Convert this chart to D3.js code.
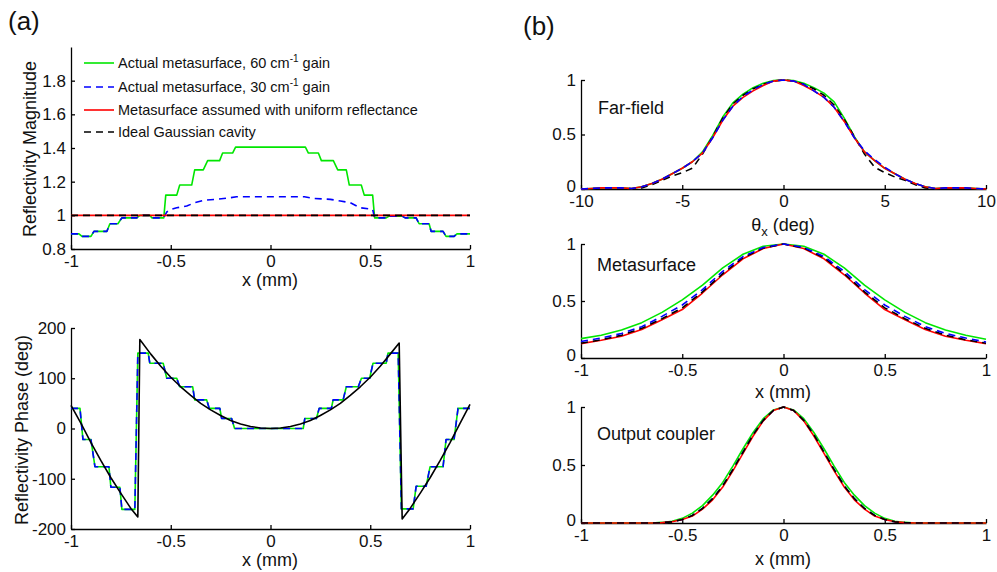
<!DOCTYPE html>
<html>
<head>
<meta charset="utf-8">
<script src="https://cdn.jsdelivr.net/npm/d3@7/dist/d3.min.js"></script>
<style>
  html, body { margin: 0; padding: 0; background: #fff; }
  svg { display: block; font-family: "Liberation Sans", Arial, Helvetica, sans-serif; }
  .axis path, .axis line { stroke: #000; stroke-width: 1.3; }
  .axis text { fill: #111; }
</style>
</head>
<body>
<svg id="chart" width="997" height="572"></svg>
<script>
// ---------------- DATA ----------------
// (a) top: reflectivity magnitude vs x (mm)
const magGreenX = [-1, -0.96, -0.945, -0.9, -0.885, -0.82, -0.805, -0.765, -0.745, -0.67, -0.655, -0.605, -0.595, -0.535, -0.525, -0.47, -0.455, -0.395, -0.38, -0.337, -0.315, -0.255, -0.24, -0.19, -0.175, 0.175, 0.19, 0.24, 0.255, 0.315, 0.337, 0.38, 0.395, 0.455, 0.47, 0.512, 0.522, 0.58, 0.595, 0.66, 0.675, 0.73, 0.745, 0.795, 0.805, 0.865, 0.88, 0.92, 0.935, 1];
const magGreenY = [0.89, 0.89, 0.875, 0.875, 0.905, 0.905, 0.95, 0.95, 0.985, 0.985, 1.0, 1.0, 0.985, 0.985, 1.12, 1.12, 1.18, 1.18, 1.27, 1.27, 1.325, 1.325, 1.37, 1.37, 1.405, 1.405, 1.37, 1.37, 1.325, 1.325, 1.27, 1.27, 1.18, 1.18, 1.12, 1.12, 0.985, 0.985, 0.995, 0.995, 0.985, 0.985, 0.95, 0.95, 0.905, 0.905, 0.875, 0.875, 0.89, 0.89];
const magBlueX = [-1, -0.96, -0.945, -0.9, -0.885, -0.82, -0.805, -0.765, -0.745, -0.67, -0.655, -0.605, -0.595, -0.535, -0.52, -0.5, -0.47, -0.42, -0.38, -0.33, -0.27, -0.2, -0.17, 0.17, 0.22, 0.3, 0.35, 0.4, 0.45, 0.512, 0.522, 0.58, 0.595, 0.66, 0.675, 0.73, 0.745, 0.795, 0.805, 0.865, 0.88, 0.92, 0.935, 1];
const magBlueY = [0.89, 0.89, 0.875, 0.875, 0.905, 0.905, 0.95, 0.95, 0.985, 0.985, 1.0, 1.0, 0.985, 0.985, 1.02, 1.035, 1.045, 1.055, 1.075, 1.09, 1.095, 1.105, 1.11, 1.11, 1.1, 1.095, 1.085, 1.075, 1.045, 1.035, 0.985, 0.985, 0.995, 0.995, 0.985, 0.985, 0.95, 0.95, 0.905, 0.905, 0.875, 0.875, 0.89, 0.89];
const magRedX = [-1, 1];
const magRedY = [1, 1];
const magBlackX = [-1, 1];
const magBlackY = [1, 1];

// (a) bottom: reflectivity phase (deg) vs x (mm)
const phStepX = [-1, -0.955, -0.94, -0.9, -0.88, -0.81, -0.8, -0.755, -0.745, -0.68, -0.665, -0.613, -0.605, -0.538, -0.52, -0.47, -0.455, -0.39, -0.38, -0.32, -0.307, -0.254, -0.245, -0.195, -0.18, 0.164, 0.172, 0.23, 0.244, 0.305, 0.314, 0.364, 0.38, 0.44, 0.456, 0.497, 0.514, 0.58, 0.589, 0.64, 0.656, 0.715, 0.73, 0.78, 0.8, 0.865, 0.88, 0.92, 0.94, 1];
const phStepY = [40, 40, -22, -22, -76, -76, -117, -117, -161, -161, 150, 150, 130, 130, 100, 100, 83, 83, 57, 57, 40, 40, 20, 20, 0, 0, 20, 20, 40, 40, 57, 57, 83, 83, 100, 100, 130, 130, 150, 150, -160, -160, -115, -115, -76, -76, -22, -22, 40, 40];
const phIdealX = [-1, -0.95, -0.9, -0.85, -0.8, -0.75, -0.7, -0.665, -0.655, -0.6, -0.55, -0.5, -0.45, -0.4, -0.35, -0.3, -0.25, -0.2, -0.15, -0.1, -0.05, 0, 0.05, 0.1, 0.15, 0.2, 0.25, 0.3, 0.35, 0.4, 0.45, 0.5, 0.55, 0.6, 0.645, 0.66, 0.7, 0.75, 0.8, 0.85, 0.9, 0.95, 1];
const phIdealY = [46, 10, -28, -64, -98, -129, -159, -176, 177, 148, 124, 102, 83, 66, 50, 37, 26, 16, 9, 4, 1, 0, 1, 4, 9, 16, 26, 37, 50, 66, 83, 102, 124, 148, 170, -180, -159, -129, -98, -64, -28, 10, 48];

// (b) far-field vs theta_x (deg)
const ffX = [-10, -9.5, -9, -8.5, -8, -7.5, -7, -6.5, -6, -5.5, -5, -4.5, -4, -3.5, -3, -2.5, -2, -1.5, -1, -0.5, 0, 0.5, 1, 1.5, 2, 2.5, 3, 3.5, 4, 4.5, 5, 5.5, 6, 6.5, 7, 7.5, 8, 8.5, 9, 9.5, 10];
const ffGreen = [0, 0.005, 0.01, 0.01, 0.01, 0.005, 0.02, 0.05, 0.09, 0.14, 0.19, 0.25, 0.34, 0.49, 0.66, 0.79, 0.87, 0.93, 0.97, 0.995, 1, 0.995, 0.97, 0.93, 0.88, 0.8, 0.65, 0.48, 0.34, 0.26, 0.19, 0.14, 0.09, 0.05, 0.02, 0.005, 0.01, 0.01, 0.01, 0.005, 0];
const ffBlue = [0, 0.005, 0.01, 0.01, 0.01, 0.005, 0.02, 0.05, 0.09, 0.14, 0.19, 0.25, 0.33, 0.47, 0.63, 0.76, 0.85, 0.91, 0.96, 0.99, 1, 0.99, 0.96, 0.9, 0.84, 0.75, 0.62, 0.47, 0.35, 0.27, 0.2, 0.14, 0.09, 0.05, 0.02, 0.005, 0.01, 0.01, 0.01, 0.005, 0];
const ffRed = [0, 0.005, 0.01, 0.01, 0.01, 0.005, 0.02, 0.05, 0.09, 0.14, 0.19, 0.25, 0.33, 0.47, 0.63, 0.76, 0.84, 0.9, 0.95, 0.99, 1, 0.99, 0.95, 0.9, 0.84, 0.75, 0.62, 0.47, 0.34, 0.26, 0.19, 0.14, 0.09, 0.05, 0.02, 0.005, 0.01, 0.01, 0.01, 0.005, 0];
const ffBlack = [0, 0, 0, 0, 0, 0, 0.01, 0.04, 0.08, 0.12, 0.15, 0.19, 0.32, 0.48, 0.65, 0.78, 0.86, 0.92, 0.96, 0.99, 1, 0.99, 0.96, 0.92, 0.86, 0.77, 0.64, 0.48, 0.32, 0.2, 0.15, 0.11, 0.08, 0.04, 0.01, 0, 0, 0, 0, 0, 0];

// (b) metasurface field vs x (mm)
const msX = [-1, -0.9, -0.8, -0.7, -0.6, -0.5, -0.4, -0.3, -0.2, -0.1, 0, 0.1, 0.2, 0.3, 0.4, 0.5, 0.6, 0.7, 0.8, 0.9, 1];
const msGreen = [0.17, 0.2, 0.245, 0.31, 0.4, 0.51, 0.64, 0.79, 0.91, 0.98, 1, 0.98, 0.91, 0.79, 0.64, 0.51, 0.4, 0.31, 0.245, 0.2, 0.165];
const msBlue = [0.145, 0.175, 0.215, 0.275, 0.365, 0.465, 0.6, 0.76, 0.89, 0.97, 1, 0.97, 0.89, 0.76, 0.6, 0.465, 0.365, 0.275, 0.215, 0.175, 0.14];
const msRed = [0.126, 0.155, 0.19, 0.25, 0.335, 0.425, 0.57, 0.73, 0.87, 0.96, 1, 0.96, 0.87, 0.73, 0.57, 0.425, 0.335, 0.25, 0.19, 0.155, 0.126];
const msBlack = [0.13, 0.16, 0.2, 0.26, 0.345, 0.44, 0.58, 0.74, 0.88, 0.965, 1, 0.965, 0.88, 0.74, 0.58, 0.44, 0.345, 0.26, 0.2, 0.16, 0.13];

// (b) output coupler field vs x (mm)
const ocX = [-1, -0.95, -0.9, -0.85, -0.8, -0.75, -0.7, -0.65, -0.6, -0.55, -0.5, -0.45, -0.4, -0.35, -0.3, -0.25, -0.2, -0.15, -0.1, -0.05, 0, 0.05, 0.1, 0.15, 0.2, 0.25, 0.3, 0.35, 0.4, 0.45, 0.5, 0.55, 0.6, 0.65, 0.7, 0.75, 0.8, 0.85, 0.9, 0.95, 1];
const ocGreen = [0, 0, 0, 0, 0, 0, 0, 0, 0.005, 0.015, 0.04, 0.085, 0.15, 0.24, 0.35, 0.49, 0.64, 0.78, 0.9, 0.975, 1, 0.975, 0.9, 0.78, 0.64, 0.49, 0.35, 0.24, 0.15, 0.085, 0.04, 0.015, 0.005, 0, 0, 0, 0, 0, 0, 0, 0];
const ocBlue = [0, 0, 0, 0, 0, 0, 0, 0, 0.003, 0.01, 0.03, 0.065, 0.125, 0.21, 0.32, 0.46, 0.61, 0.76, 0.885, 0.97, 1, 0.97, 0.885, 0.76, 0.61, 0.46, 0.32, 0.21, 0.125, 0.065, 0.03, 0.01, 0.003, 0, 0, 0, 0, 0, 0, 0, 0];
const ocRed = [0, 0, 0, 0, 0, 0, 0, 0, 0.003, 0.01, 0.03, 0.06, 0.12, 0.2, 0.31, 0.45, 0.6, 0.75, 0.88, 0.97, 1, 0.97, 0.88, 0.75, 0.6, 0.45, 0.31, 0.2, 0.12, 0.06, 0.03, 0.01, 0.003, 0, 0, 0, 0, 0, 0, 0, 0];
const ocBlack = [0, 0, 0, 0, 0, 0, 0, 0, 0.003, 0.01, 0.03, 0.065, 0.125, 0.21, 0.32, 0.46, 0.61, 0.76, 0.885, 0.97, 1, 0.97, 0.885, 0.76, 0.61, 0.46, 0.32, 0.21, 0.125, 0.065, 0.03, 0.01, 0.003, 0, 0, 0, 0, 0, 0, 0, 0];

// Ticks and labels
const xmmTicks = [-1, -0.5, 0, 0.5, 1];
const degTicks = [-10, -5, 0, 5, 10];
const magTicks = [0.8, 1, 1.2, 1.4, 1.6, 1.8];
const phaseTicks = [-200, -100, 0, 100, 200];
const normTicks = [0, 0.5, 1];
const legendLabels = [
  {main: "Actual metasurface, 60 cm", sup: "-1", tail: " gain"},
  {main: "Actual metasurface, 30 cm", sup: "-1", tail: " gain"},
  {main: "Metasurface assumed with uniform reflectance"},
  {main: "Ideal Gaussian cavity"}
];
const panelNames = ["Far-field", "Metasurface", "Output coupler"];

// ---------------- STYLES ----------------
const C = { green: "#00e600", blue: "#0000ff", red: "#ff0000", black: "#000000" };
const DASH = "7,5";
const svg = d3.select("#chart");

function fmt(d) { return String(d); }

function panel(opt) {
  const x = d3.scaleLinear().domain(opt.xd).range(opt.xr);
  const y = d3.scaleLinear().domain(opt.yd).range(opt.yr);
  const g = svg.append("g");
  g.append("g").attr("class", "axis").attr("transform", `translate(0,${opt.yr[0]})`)
    .call(d3.axisBottom(x).tickValues(opt.xt).tickFormat(fmt).tickSizeInner(-4).tickSizeOuter(0).tickPadding(6));
  const ya = g.append("g").attr("class", "axis").attr("transform", `translate(${opt.xr[0]},0)`)
    .call(d3.axisLeft(y).tickValues(opt.yt).tickFormat(fmt).tickSizeInner(-4).tickSizeOuter(0).tickPadding(5));
  g.selectAll(".axis text").attr("font-size", 17).attr("font-family", "Liberation Sans, Arial, sans-serif");
  if (opt.liftZero) {
    ya.selectAll(".tick text").filter(d => d === opt.yd[0]).attr("dy", "0.12em");
  }
  return {x, y, g};
}

function drawLine(p, xs, ys, color, dashed) {
  const pts = xs.map((v, i) => [v, ys[i]]);
  const line = d3.line().x(d => p.x(d[0])).y(d => p.y(d[1]));
  p.g.append("path").attr("d", line(pts)).attr("fill", "none")
    .attr("stroke", color).attr("stroke-width", 1.6)
    .attr("stroke-dasharray", dashed ? DASH : null)
    .attr("stroke-linejoin", "round");
}

function xLabel(x, y, text) {
  svg.append("text").attr("x", x).attr("y", y).attr("text-anchor", "middle")
    .attr("font-size", 18).attr("fill", "#111").text(text);
}
function yLabel(x, y, text) {
  svg.append("text").attr("transform", `translate(${x},${y}) rotate(-90)`).attr("text-anchor", "middle")
    .attr("font-size", 18).attr("fill", "#111").text(text);
}

// ---------------- (a) top ----------------
const pA1 = panel({xd: [-1, 1], xr: [71, 470], yd: [0.8, 2.0], yr: [249, 47], xt: xmmTicks, yt: magTicks});
drawLine(pA1, magGreenX, magGreenY, C.green, false);
drawLine(pA1, magBlueX, magBlueY, C.blue, true);
drawLine(pA1, magRedX, magRedY, C.red, false);
drawLine(pA1, magBlackX, magBlackY, C.black, true);
xLabel(270, 286, "x (mm)");
yLabel(36, 149, "Reflectivity Magnitude");

// legend
const legColors = [C.green, C.blue, C.red, C.black];
const legDash = [false, true, false, true];
const legY = [63, 87, 110, 132];
legendLabels.forEach((L, i) => {
  svg.append("line").attr("x1", 84).attr("x2", 114).attr("y1", legY[i]).attr("y2", legY[i])
    .attr("stroke", legColors[i]).attr("stroke-width", 1.6).attr("stroke-dasharray", legDash[i] ? DASH : null);
  const t = svg.append("text").attr("x", 118).attr("y", legY[i] + 5).attr("font-size", 14.5).attr("fill", "#111");
  t.append("tspan").text(L.main);
  if (L.sup) {
    t.append("tspan").attr("dy", -6).attr("font-size", 10).text(L.sup);
    t.append("tspan").attr("dy", 6).text(L.tail);
  }
});

// ---------------- (a) bottom ----------------
const pA2 = panel({xd: [-1, 1], xr: [71, 470], yd: [-200, 200], yr: [529, 328], xt: xmmTicks, yt: phaseTicks});
drawLine(pA2, phStepX, phStepY, C.green, false);
drawLine(pA2, phStepX, phStepY, C.blue, true);
drawLine(pA2, phIdealX, phIdealY, C.black, false);
xLabel(270, 566, "x (mm)");
yLabel(28, 430, "Reflectivity Phase (deg)");

// ---------------- (b) ----------------
const pB1 = panel({xd: [-10, 10], xr: [581, 986], yd: [0, 1], yr: [189, 80], xt: degTicks, yt: normTicks, liftZero: true});
drawLine(pB1, ffX, ffGreen, C.green, false);
drawLine(pB1, ffX, ffBlack, C.black, true);
drawLine(pB1, ffX, ffRed, C.red, false);
drawLine(pB1, ffX, ffBlue, C.blue, true);
{
  const t = svg.append("text").attr("x", 783).attr("y", 231).attr("text-anchor", "middle").attr("font-size", 18).attr("fill", "#111");
  t.append("tspan").text("θ");
  t.append("tspan").attr("dy", 5).attr("font-size", 13).text("x");
  t.append("tspan").attr("dy", -5).text(" (deg)");
}

const pB2 = panel({xd: [-1, 1], xr: [581, 986], yd: [0, 1], yr: [358, 244], xt: xmmTicks, yt: normTicks, liftZero: true});
drawLine(pB2, msX, msGreen, C.green, false);
drawLine(pB2, msX, msRed, C.red, false);
drawLine(pB2, msX, msBlack, C.black, true);
drawLine(pB2, msX, msBlue, C.blue, true);
xLabel(783, 398, "x (mm)");

const pB3 = panel({xd: [-1, 1], xr: [581, 986], yd: [0, 1], yr: [523, 407], xt: xmmTicks, yt: normTicks, liftZero: true});
drawLine(pB3, ocX, ocGreen, C.green, false);
drawLine(pB3, ocX, ocBlue, C.blue, true);
drawLine(pB3, ocX, ocRed, C.red, false);
drawLine(pB3, ocX, ocBlack, C.black, true);
xLabel(783, 565, "x (mm)");

// panel annotations
const annPos = [[598, 114], [597, 271], [597, 440]];
panelNames.forEach((n, i) => {
  svg.append("text").attr("x", annPos[i][0]).attr("y", annPos[i][1]).attr("font-size", 18).attr("fill", "#111").text(n);
});

// panel letters
svg.append("text").attr("x", 8).attr("y", 30).attr("font-size", 26).attr("fill", "#111").text("(a)");
svg.append("text").attr("x", 523).attr("y", 35).attr("font-size", 26).attr("fill", "#111").text("(b)");
</script>
</body>
</html>
